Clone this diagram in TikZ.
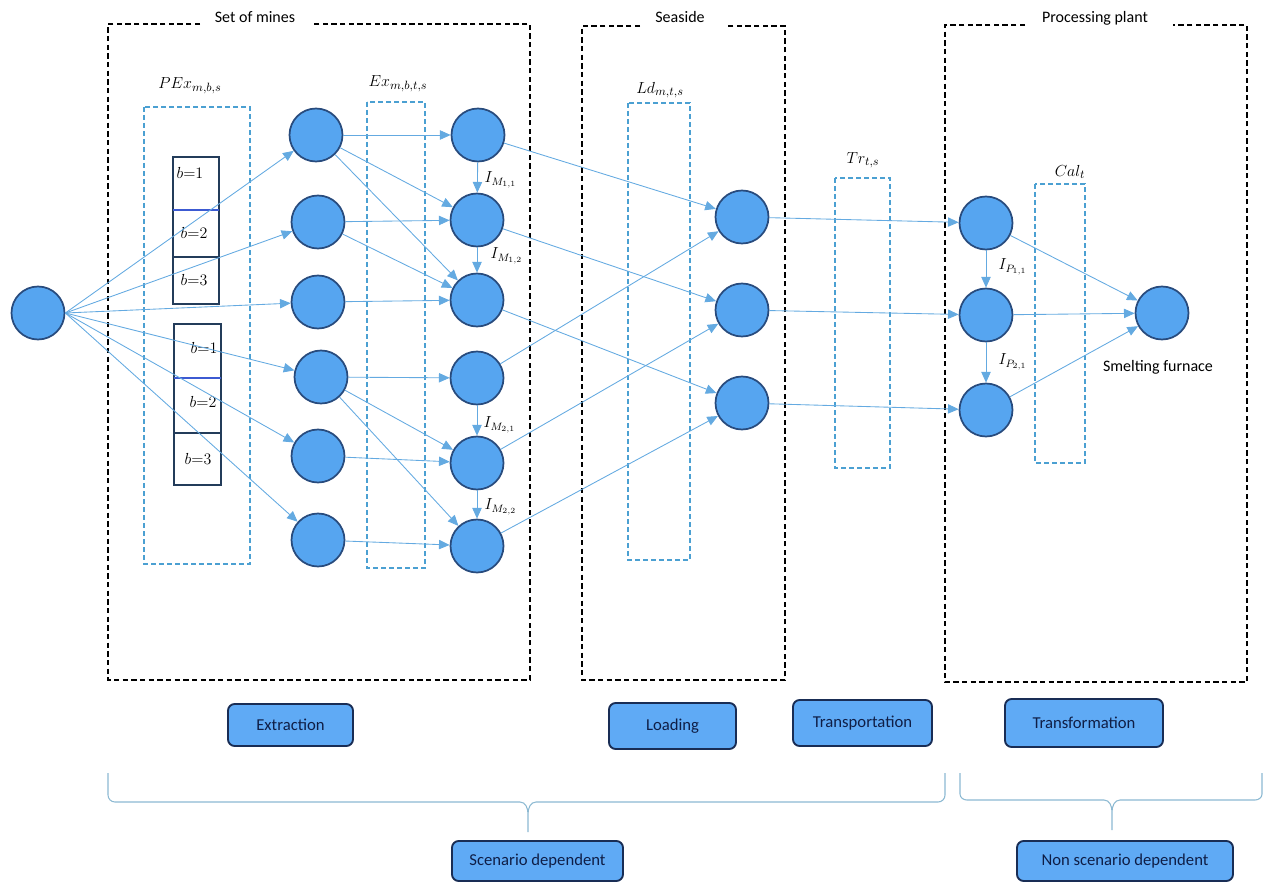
\documentclass[tikz,border=0pt]{standalone}
\usepackage{fontspec}
\setmainfont{Carlito}
\usetikzlibrary{arrows.meta}
\definecolor{cfill}{RGB}{86,165,240}
\definecolor{cborder}{RGB}{40,75,125}
\definecolor{cedge}{RGB}{100,170,225}
\definecolor{cdash}{RGB}{75,160,210}
\definecolor{bbox}{RGB}{35,60,90}
\definecolor{bsep}{RGB}{60,90,210}
\definecolor{btnfill}{RGB}{95,170,245}
\definecolor{btndraw}{RGB}{25,45,85}
\definecolor{btntext}{RGB}{15,30,70}
\definecolor{cbrace}{RGB}{140,185,210}
\begin{document}
\begin{tikzpicture}[x=0.75pt,y=-0.75pt,
  circ/.style={circle,fill=cfill,draw=cborder,line width=1.3pt,minimum size=39.75pt,inner sep=0pt},
  edge/.style={draw=cedge,line width=0.65pt,-{Triangle[length=8pt,width=7pt]}},
  blackbox/.style={draw=black,line width=1.4pt,dash pattern=on 4pt off 2.5pt},
  bluebox/.style={draw=cdash,line width=1.1pt,dash pattern=on 4pt off 2pt},
  bcell/.style={draw=bbox,line width=1.1pt},
  bsepline/.style={draw=bsep,line width=2pt},
  title/.style={font=\fontsize{12}{14}\selectfont,inner sep=1pt},
  mlabel/.style={font=\fontsize{12.5}{14}\selectfont,inner sep=1pt},
  ilabel/.style={font=\fontsize{12}{14}\selectfont,inner sep=1pt,anchor=west},
  blabel/.style={font=\fontsize{13}{15}\selectfont,inner sep=1pt},
  btn/.style={rectangle,rounded corners=5pt,fill=btnfill,draw=btndraw,line width=1.4pt,
    text=btntext,font=\fontsize{12.5}{14}\selectfont,inner sep=2pt},
  bracestyle/.style={draw=cbrace,line width=0.8pt}
]
\useasboundingbox (0,0) rectangle (1277,884);

% ---- black dashed group boxes
\draw[blackbox] (200,24) -- (108,24) -- (108,680) -- (530,680) -- (530,24) -- (313,24);
\node[title] (tmines) at (255,17) {Set of mines};
\draw[blackbox] (640,26) -- (582,26) -- (582,680) -- (785,680) -- (785,26) -- (727,26);
\node[title] (tsea) at (680,17) {Seaside};
\draw[blackbox] (1025,25) -- (945,25) -- (945,682) -- (1247,682) -- (1247,25) -- (1173,25);
\node[title] (tplant) at (1095,18) {Processing plant};

% ---- blue dashed variable boxes
\draw[bluebox] (144,107) rectangle (250,564);
\node[mlabel] (lpex) at (190,86) {$PEx_{m,b,s}$};
\draw[bluebox] (367,102) rectangle (425,568);
\node[mlabel] (lex) at (398,84) {$Ex_{m,b,t,s}$};
\draw[bluebox] (628,103) rectangle (690,560);
\node[mlabel] (lld) at (660,90) {$Ld_{m,t,s}$};
\draw[bluebox] (835,178) rectangle (890,468);
\node[mlabel] (ltr) at (863,160) {$Tr_{t,s}$};
\draw[bluebox] (1035,184) rectangle (1085,463);
\node[mlabel] (lcal) at (1070,172) {$Cal_{t}$};

% ---- b cells
\draw[bcell] (173,157) rectangle (219,210);
\draw[bcell] (173,210) rectangle (219,257);
\draw[bcell] (173,257) rectangle (219,304);
\draw[bsepline] (173,210) -- (219,210);
\draw[bsepline,draw=bbox] (173,257) -- (219,257);
\node[blabel,anchor=west] (b11) at (175,173) {$b{=}1$};
\node[blabel] (b12) at (194,233) {$b{=}2$};
\node[blabel] (b13) at (194,280) {$b{=}3$};
\draw[bcell] (174,324) rectangle (221,378);
\draw[bcell] (174,378) rectangle (221,433);
\draw[bcell] (174,433) rectangle (221,485);
\draw[bsepline] (174,378) -- (221,378);
\node[blabel] (b21) at (204,348) {$b{=}1$};
\node[blabel] (b22) at (203,402) {$b{=}2$};
\node[blabel] (b23) at (198,459) {$b{=}3$};

% ---- circles
\node[circ] (src) at (38,313) {};
\node[circ] (a1) at (316,135) {};
\node[circ] (a2) at (318,222) {};
\node[circ] (a3) at (318,302) {};
\node[circ] (a4) at (321,377) {};
\node[circ] (a5) at (318,456) {};
\node[circ] (a6) at (318,540) {};
\node[circ] (e1) at (478,135) {};
\node[circ] (e2) at (477,220) {};
\node[circ] (e3) at (477,300) {};
\node[circ] (e4) at (477,378) {};
\node[circ] (e5) at (477,463) {};
\node[circ] (e6) at (477,546) {};
\node[circ] (l1) at (742,217) {};
\node[circ] (l2) at (742,310) {};
\node[circ] (l3) at (742,403) {};
\node[circ] (p1) at (986,223) {};
\node[circ] (p2) at (986,315) {};
\node[circ] (p3) at (986,410) {};
\node[circ] (sf) at (1162,313) {};
\node[title] (tsf) at (1158,367) {Smelting furnace};

% ---- edges
\foreach \t in {a1,a2,a3,a4,a5,a6} \draw[edge] (src.east) -- (\t);
\draw[edge] (a1) -- (e1);
\draw[edge] (a1) -- (e2);
\draw[edge] (a1) -- (e3);
\draw[edge] (a2) -- (e2);
\draw[edge] (a2) -- (e3);
\draw[edge] (a3) -- (e3);
\draw[edge] (a4) -- (e4);
\draw[edge] (a4) -- (e5);
\draw[edge] (a4) -- (e6);
\draw[edge] (a5) -- (e5);
\draw[edge] (a6) -- (e6);
\draw[edge] (e1) -- (e2);
\draw[edge] (e2) -- (e3);
\draw[edge] (e4) -- (e5);
\draw[edge] (e5) -- (e6);
\node[ilabel] (im11) at (483,180) {$I_{M_{1,1}}$};
\node[ilabel] (im12) at (489,256) {$I_{M_{1,2}}$};
\node[ilabel] (im21) at (482,425) {$I_{M_{2,1}}$};
\node[ilabel] (im22) at (483,507) {$I_{M_{2,2}}$};
\draw[edge] (e1) -- (l1);
\draw[edge] (e2) -- (l2);
\draw[edge] (e3) -- (l3);
\draw[edge] (e4) -- (l1);
\draw[edge] (e5) -- (l2);
\draw[edge] (e6) -- (l3);
\draw[edge] (l1) -- (p1);
\draw[edge] (l2) -- (p2);
\draw[edge] (l3) -- (p3);
\draw[edge] (p1) -- (p2);
\draw[edge] (p2) -- (p3);
\node[ilabel] (ip11) at (997,267) {$I_{P_{1,1}}$};
\node[ilabel] (ip21) at (997,362) {$I_{P_{2,1}}$};
\draw[edge] (p1) -- (sf);
\draw[edge] (p2) -- (sf);
\draw[edge] (p3) -- (sf);

% ---- buttons
\node[btn,minimum width=93.75pt,minimum height=31.5pt] (bext) at (290.5,725) {Extraction};
\node[btn,minimum width=95.25pt,minimum height=34.5pt] (bload) at (672.5,726) {Loading};
\node[btn,minimum width=104.25pt,minimum height=34.5pt] (btrans) at (862.5,723) {Transportation};
\node[btn,minimum width=118.5pt,minimum height=36pt] (bform) at (1084,723) {Transformation};
\node[btn,minimum width=128.25pt,minimum height=30pt] (bscen) at (537.5,861) {Scenario dependent};
\node[btn,minimum width=162pt,minimum height=30pt] (bnon) at (1125,861) {Non scenario dependent};

% ---- braces
\draw[bracestyle] (108,773) -- (108,795) to[out=-90,in=180] (115,802) -- (520,802)
  to[out=0,in=90] (528,814) -- (528,832) -- (528,814) to[out=90,in=180] (536,802)
  -- (938,802) to[out=0,in=-90] (945,795) -- (945,773);
\draw[bracestyle] (960,773) -- (960,794) to[out=-90,in=180] (967,800) -- (1104,800)
  to[out=0,in=90] (1112,812) -- (1112,830) -- (1112,812) to[out=90,in=180] (1120,800)
  -- (1255,800) to[out=0,in=-90] (1262,794) -- (1262,773);
\end{tikzpicture}
\end{document}
